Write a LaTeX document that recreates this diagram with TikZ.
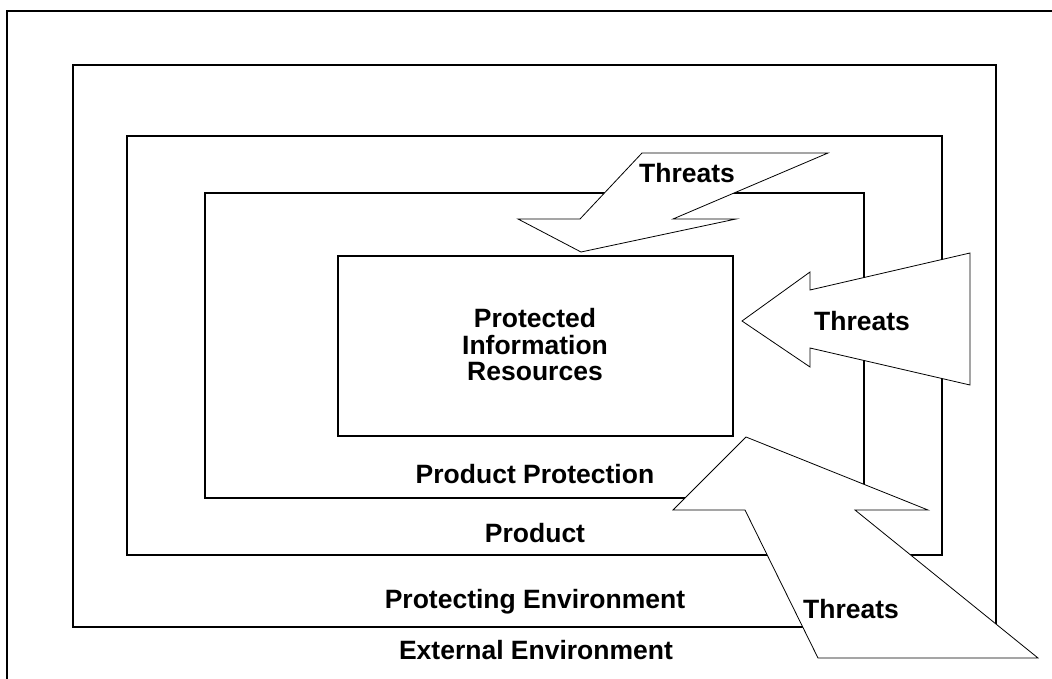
\documentclass[tikz,border=0pt]{standalone}
\usepackage{fontspec}
\setmainfont{Liberation Sans}
\begin{document}
\begin{tikzpicture}[x=1pt,y=-1pt,
  frame/.style={draw=black,line width=1.4pt},
  layer/.style={draw=black,line width=1.1pt},
  threat/.style={draw=black,fill=white,line width=0.8pt,line join=miter},
  lbl/.style={font=\bfseries\fontsize{26.5}{26.5}\selectfont,inner sep=0pt,anchor=base},
]
\useasboundingbox (0,0) rectangle (1052,679);
\begin{scope}
\clip (0,0) rectangle (1052,679);
% outer frame, running past the page edge on the right and bottom
\draw[frame] (7,11) rectangle (1070,700);
\end{scope}

% nested layers
\draw[layer] (73,65) rectangle (996,627);
\draw[layer] (127,136) rectangle (942,555);
\draw[layer] (205,193) rectangle (864,498);
\draw[layer] (338,256) rectangle (733,436);

% threat arrows
\draw[threat] (642,153) -- (828,153) -- (673,219) -- (736,219) -- (581,252)
  -- (518,219) -- (580,219) -- cycle;
\draw[threat] (742,321) -- (810,272) -- (810,290) -- (970,253) -- (970,385)
  -- (810,348) -- (810,367) -- cycle;
\draw[threat] (746,437) -- (928,510) -- (855,510) -- (1038,658) -- (818,658)
  -- (745,510) -- (673,510) -- cycle;

% labels
\node[lbl,anchor=center,align=center] (res) at (535,345) {Protected\\Information\\Resources};
\node[lbl] (pp) at (535,483) {Product Protection};
\node[lbl] (prod) at (535,542) {Product};
\node[lbl] (penv) at (535,608) {Protecting Environment};
\node[lbl] (eenv) at (536,659) {External Environment};
\node[lbl] (t1) at (687,183) {Threats};
\node[lbl] (t2) at (862,330) {Threats};
\node[lbl] (t3) at (851,618) {Threats};
\end{tikzpicture}
\end{document}
